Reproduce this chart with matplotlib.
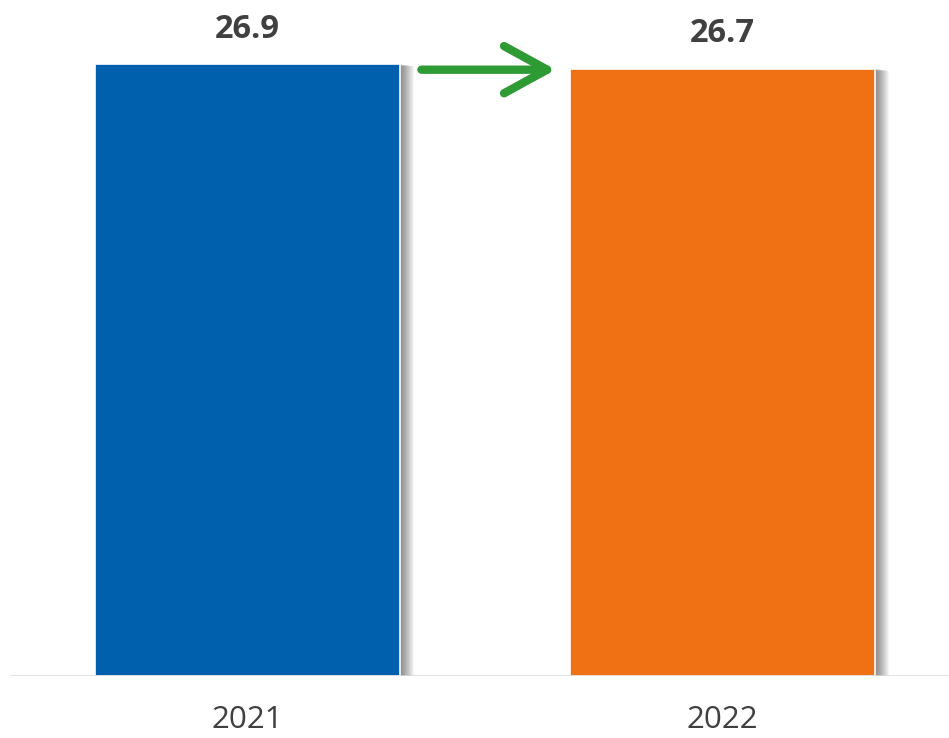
import matplotlib
matplotlib.use("Agg")
import matplotlib.pyplot as plt
from matplotlib.patches import FancyArrowPatch

years = ["2021", "2022"]
values = [26.9, 26.7]
colors = ["#0060AD", "#F07014"]
label_color = "#404040"

W, H = 949, 738
fig = plt.figure(figsize=(W / 100, H / 100), dpi=100)
ax = fig.add_axes([10 / W, 62 / H, (W - 10) / W, (H - 62) / H])

bar_w = 305 / 475
x = list(range(len(years)))
px_x = 1 / 475           # one pixel in x data units
ymax = 26.9 * 676 / 612
px_y = ymax / 676        # one pixel in y data units

# soft shadows to the right of each bar
for k in range(1, 15):
    for xi, v in zip(x, values):
        ax.bar(xi + k * px_x, v, width=bar_w, bottom=-k * 0.15 * px_y,
               color="black", alpha=0.04, zorder=1, linewidth=0)

bars = ax.bar(x, values, width=bar_w, color=colors, edgecolor="white", linewidth=1.2, zorder=3)

ax.set_xlim(-0.5, (W - 247.5) / 475)
ax.set_ylim(0, ymax)
ax.axhline(0, color="#d9d9d9", linewidth=1.8, zorder=4)

for xi, v in zip(x, values):
    ax.annotate(f"{v}", (xi, v), xytext=(0, 13), textcoords="offset points",
                ha="center", va="bottom", fontsize=23.5, fontweight="bold",
                color=label_color, family="Open Sans", zorder=5)

ax.set_xticks(x)
ax.set_xticklabels(years, fontsize=22.5, color=label_color, family="Open Sans")
ax.tick_params(axis="x", length=0, pad=21)
ax.set_yticks([])
for s in ax.spines.values():
    s.set_visible(False)

# arrow between bars
x0 = x[0] + bar_w / 2 + 0.045
x1 = x[1] - bar_w / 2 - 0.03
ya = values[1] - 0.05
arr = FancyArrowPatch((x0, ya), (x1, ya), arrowstyle="->,head_length=1.55,head_width=0.85",
                      color="#2E9A33", linewidth=6, zorder=5, capstyle="round",
                      joinstyle="round", mutation_scale=20, shrinkA=0, shrinkB=0)
ax.add_patch(arr)

fig.savefig("out.png", dpi=100)
